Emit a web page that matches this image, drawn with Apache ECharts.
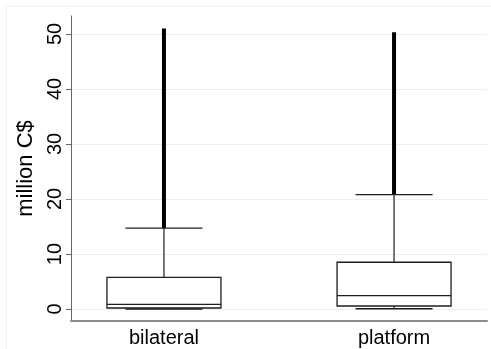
<!DOCTYPE html>
<html>
<head>
<meta charset="utf-8">
<script src="https://cdn.jsdelivr.net/npm/echarts@6/dist/echarts.min.js"></script>
<style>
html,body{margin:0;padding:0;background:#fff;}
#chart{width:491px;height:349px;}
</style>
</head>
<body>
<div id="chart"></div>
<script>
// ---- data ----
const categories   = ['bilateral', 'platform'];
const whiskerLow   = [0.0, 0.05];
const quartile1    = [0.18, 0.55];
const medians      = [0.85, 2.42];
const quartile3    = [5.76, 8.5];
const whiskerHigh  = [14.7, 20.8];
const outlierMax   = [51.0, 50.3];   // outliers form a dense column from whisker top to this value
const yTickValues  = [0, 10, 20, 30, 40, 50];
const yTitle = 'million C$';

const FONT = '"Liberation Sans", Arial, Helvetica, sans-serif';

const seriesData = categories.map((c, i) => [
  i + 1, whiskerLow[i], quartile1[i], medians[i], quartile3[i], whiskerHigh[i], outlierMax[i]
]);

const chart = echarts.init(document.getElementById('chart'), null, {renderer: 'canvas'});

function renderItem(params, api) {
  const x = api.value(0);
  const pt = v => api.coord([x, v]);
  const cx = pt(0)[0];
  const yLow = pt(api.value(1))[1];
  const yQ1 = pt(api.value(2))[1];
  const yMed = pt(api.value(3))[1];
  const yQ3 = pt(api.value(4))[1];
  const yHigh = pt(api.value(5))[1];
  const yMax = pt(api.value(6))[1];
  const boxHalf = 57, capHalf = 38.5;
  const stroke = '#1e1e1e';
  const thin = {stroke: stroke, lineWidth: 1.2, fill: null};
  return {
    type: 'group',
    children: [
      {type: 'line', shape: {x1: cx, y1: yHigh, x2: cx, y2: yMax}, style: {stroke: '#000', lineWidth: 4}},
      {type: 'line', shape: {x1: cx, y1: yQ3, x2: cx, y2: yHigh}, style: thin},
      {type: 'line', shape: {x1: cx, y1: yLow, x2: cx, y2: yQ1}, style: thin},
      {type: 'line', shape: {x1: cx - capHalf, y1: yHigh, x2: cx + capHalf, y2: yHigh}, style: thin},
      {type: 'line', shape: {x1: cx - capHalf, y1: yLow, x2: cx + capHalf, y2: yLow}, style: {stroke: stroke, lineWidth: 1.6}},
      {type: 'rect', shape: {x: cx - boxHalf, y: yQ3, width: boxHalf * 2, height: yQ1 - yQ3},
        style: {stroke: stroke, lineWidth: 1.3, fill: '#fff'}},
      {type: 'line', shape: {x1: cx - boxHalf, y1: yMed, x2: cx + boxHalf, y2: yMed}, style: {stroke: stroke, lineWidth: 1.3}}
    ]
  };
}

chart.setOption({
  animation: false,
  backgroundColor: '#fff',
  graphic: [{
    type: 'rect', left: 4, top: 4, silent: true,
    shape: {width: 600, height: 600},
    style: {fill: null, stroke: '#f0f3f4', lineWidth: 1}
  }],
  grid: {left: 71, right: 4, top: 16, bottom: 28},
  xAxis: {
    type: 'value',
    min: 0.596, max: 2.404,
    axisLine: {show: true, onZero: false, lineStyle: {color: '#8c8c8c', width: 2}},
    axisTick: {show: false},
    splitLine: {show: false},
    axisLabel: {
      customValues: categories.map((c, i) => i + 1),
      formatter: v => categories[Math.round(v) - 1] || '',
      color: '#000', fontSize: 20, fontFamily: FONT, margin: 7
    }
  },
  yAxis: {
    type: 'value',
    min: -2.18, max: 53.27,
    name: yTitle,
    nameLocation: 'middle',
    nameRotate: 90,
    nameGap: 28,
    nameTextStyle: {color: '#000', fontSize: 22, fontFamily: FONT},
    axisLine: {show: true, onZero: false, lineStyle: {color: '#666', width: 1}},
    axisTick: {show: true, length: 5, customValues: yTickValues, lineStyle: {color: '#666'}},
    axisLabel: {
      customValues: yTickValues, rotate: 90, color: '#000', fontSize: 20, fontFamily: FONT, margin: 6
    },
    splitLine: {show: true, lineStyle: {color: '#eaf0f0', width: 1}}
  },
  series: [{
    type: 'custom',
    renderItem: renderItem,
    encode: {x: 0, y: [1, 2, 3, 4, 5, 6]},
    data: seriesData,
    clip: false
  }]
});
</script>
</body>
</html>
